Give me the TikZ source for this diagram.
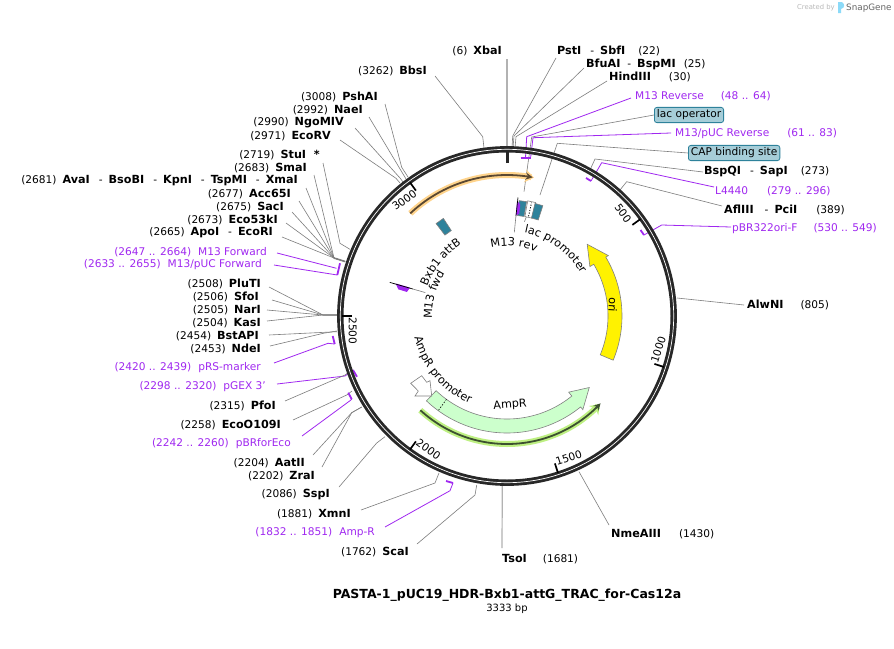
\documentclass[tikz,border=0pt]{standalone}
\usepackage{fontspec}
\setmainfont{DejaVu Sans}
\usepackage{xcolor}
\usetikzlibrary{arrows.meta,decorations.text}
\definecolor{leadgray}{RGB}{125,125,125}
\definecolor{primer}{RGB}{160,40,240}
\definecolor{ringdark}{RGB}{40,40,40}
\definecolor{opteal}{RGB}{46,130,155}
\definecolor{opfill}{RGB}{166,205,216}
\definecolor{ampfill}{RGB}{204,255,204}
\definecolor{orangeglow}{RGB}{255,212,140}
\definecolor{orangeline}{RGB}{90,72,50}
\definecolor{greenglow}{RGB}{190,240,130}
\definecolor{greenline}{RGB}{60,80,48}
\newcommand{\lblfont}{\fontsize{10.6}{12}\selectfont}
\newcommand{\curvefont}{\fontsize{11.2}{13}\selectfont}
\newcommand{\enz}[1]{{\fontsize{11.2}{12}\selectfont\bfseries #1}}
\newcommand{\gap}{\hspace{6pt}}
\tikzset{
  site/.style={font=\lblfont, inner sep=1pt},
  oligo/.style={font=\lblfont, text=primer, inner sep=1pt},
  opbox/.style={font=\lblfont, draw=opteal, fill=opfill, rounded corners=2.5pt, line width=0.8pt, inner sep=2.5pt, minimum height=14pt},
  lead/.style={draw=leadgray, line width=0.6pt},
  leadpale/.style={draw=gray!60, line width=1.2pt},
  leadp/.style={draw=primer, line width=0.8pt},
  tickp/.style={draw=primer, line width=1.8pt},
  tickmark/.style={draw=black, line width=1.7pt},
  ticklbl/.style={font=\lblfont, inner sep=0pt},
  feat/.style={draw=gray, line width=0.6pt},
}
\begin{document}
\begin{tikzpicture}[x=1pt, y=-1pt]
  \useasboundingbox (0,0) rectangle (894,648);
  \fill[white] (0,0) rectangle (894,648);

  % top of the page
  \node[font=\fontsize{6.8}{8}\selectfont, text=gray!55, inner sep=0pt, anchor=west] (credit) at (797,8) {Created by};
  \fill[cyan!45] (838,2) -- (842,2) .. controls (845,4) and (845,8) .. (841,9) -- (841,13) -- (838,13) -- cycle;
  \node[font=\fontsize{8.8}{10}\selectfont, text=gray!80!black, inner sep=0pt, anchor=west] (brand) at (846,8) {SnapGene};

  % enzyme sites, left side
  \node[site, anchor=east] (xbai) at (503,51) {(6)\gap\enz{XbaI}};
  \coordinate (xbaiR) at (507,148);
  \draw[leadpale] ([shift={(4pt,-8pt)}]xbai.east) -- (xbaiR);
  \node[site, anchor=east] (bbsi) at (428,71) {(3262)\gap\enz{BbsI}};
  \coordinate (bbsiE) at (482.7,136.7); \coordinate (bbsiR) at (484,148);
  \draw[lead] ([shift={(7pt,-5pt)}]bbsi.east) -- (bbsiE) -- (bbsiR);
  \node[site, anchor=east] (pshai) at (379,97) {(3008)\gap\enz{PshAI}};
  \coordinate (pshaiE) at (401.7,167.3); \coordinate (pshaiR) at (408,177);
  \draw[lead] ([shift={(6pt,-7pt)}]pshai.east) -- (pshaiE) -- (pshaiR);
  \node[site, anchor=east] (naei) at (364,110) {(2992)\gap\enz{NaeI}};
  \coordinate (naeiR) at (406,179);
  \draw[lead] ([shift={(5pt,-7pt)}]naei.east) -- (naeiR);
  \node[site, anchor=east] (ngomiv) at (345,123) {(2990)\gap\enz{NgoMIV}};
  \coordinate (ngomivE) at (400,178); \coordinate (ngomivR) at (403,182);
  \draw[lead] ([shift={(10pt,-5pt)}]ngomiv.east) -- (ngomivE) -- (ngomivR);
  \node[site, anchor=east] (ecorv) at (332,136) {(2971)\gap\enz{EcoRV}};
  \coordinate (ecorvE) at (396,178.3); \coordinate (ecorvR) at (400,183);
  \draw[lead] ([shift={(8pt,-4pt)}]ecorv.east) -- (ecorvE) -- (ecorvR);
  \node[site, anchor=east] (stui) at (321,155) {(2719)\gap\enz{StuI\ \ *}};
  \coordinate (stuiE) at (340,243.3); \coordinate (stuiR) at (350,249.3);
  \draw[lead] ([shift={(2pt,-8pt)}]stui.east) -- (stuiE) -- (stuiR);

  \coordinate (hubE) at (334,258); \coordinate (hubR) at (345,261.5);
  \draw[leadpale, line width=1.8pt] (hubE) -- (hubR);
  \node[site, anchor=east] (smai) at (308,168) {(2683)\gap\enz{SmaI}};
  \draw[lead] ([shift={(6pt,-7pt)}]smai.east) -- (hubE) -- (hubR);
  \node[site, anchor=east] (xmai) at (299,181) {(2681)\gap\enz{AvaI}\hspace{9pt}-\gap\enz{BsoBI}\hspace{9pt}-\gap\enz{KpnI}\hspace{9pt}-\gap\enz{TspMI}\hspace{9pt}-\gap\enz{XmaI}};
  \draw[lead] ([shift={(7pt,-7pt)}]xmai.east) -- (hubE) -- (hubR);
  \node[site, anchor=east] (acc) at (292,194) {(2677)\gap\enz{Acc65I}};
  \draw[lead] ([shift={(7pt,-7pt)}]acc.east) -- (hubE) -- (hubR);
  \node[site, anchor=east] (saci) at (285,207) {(2675)\gap\enz{SacI}};
  \draw[lead] ([shift={(7pt,-5pt)}]saci.east) -- (hubE) -- (hubR);
  \node[site, anchor=east] (ecofiftythree) at (279,220) {(2673)\gap\enz{Eco53kI}};
  \draw[lead] ([shift={(7pt,-3pt)}]ecofiftythree.east) -- (hubE) -- (hubR);
  \node[site, anchor=east] (ecori) at (274,233) {(2665)\gap\enz{ApoI}\hspace{9pt}-\gap\enz{EcoRI}};
  \draw[lead] ([shift={(8pt,-4pt)}]ecori.east) -- (hubE) -- (hubR);

  \node[oligo, anchor=east] (mfwd) at (268,252) {(2647 .. 2664)\hspace{7pt}M13 Forward};
  \coordinate (mfwdE) at (336.5,268.3);
  \draw[leadp] ([shift={(9pt,-1pt)}]mfwd.east) -- (mfwdE);
  \node[oligo, anchor=east] (mpucfwd) at (263,265) {(2633 .. 2655)\hspace{7pt}M13/pUC Forward};
  \coordinate (mpucfwdE) at (337.3,275);
  \draw[leadp] ([shift={(11pt,0pt)}]mpucfwd.east) -- (mpucfwdE);
  \coordinate (mfwdA) at (340,263.3);
  \draw[tickp] (mpucfwdE) -- (mfwdA);

  \coordinate (kasE) at (323,315); \coordinate (kasR) at (337,315);
  \node[site, anchor=east] (pluti) at (262,284) {(2508)\gap\enz{PluTI}};
  \draw[lead] ([shift={(7pt,-3pt)}]pluti.east) -- (kasE) -- (kasR);
  \node[site, anchor=east] (sfoi) at (260,297) {(2506)\gap\enz{SfoI}};
  \draw[lead] ([shift={(12pt,-3pt)}]sfoi.east) -- (kasE) -- (kasR);
  \node[site, anchor=east] (nari) at (262,310) {(2505)\gap\enz{NarI}};
  \draw[lead] ([shift={(5pt,0pt)}]nari.east) -- (kasE) -- (kasR);
  \node[site, anchor=east] (kasi) at (262,323) {(2504)\gap\enz{KasI}};
  \draw[lead] ([shift={(5pt,2pt)}]kasi.east) -- (kasE) -- (kasR);
  \node[site, anchor=east] (bstapi) at (260,336) {(2454)\gap\enz{BstAPI}};
  \coordinate (bstapiR) at (337,331.7);
  \draw[lead] ([shift={(9pt,1pt)}]bstapi.east) -- (bstapiR);
  \node[site, anchor=east] (ndei) at (262,349) {(2453)\gap\enz{NdeI}};
  \coordinate (ndeiE) at (323.3,333.3); \coordinate (ndeiR) at (337,331);
  \draw[lead] ([shift={(8pt,3pt)}]ndei.east) -- (ndeiE) -- (ndeiR);

  \node[oligo, anchor=east] (prs) at (262,368) {(2420 .. 2439)\hspace{7pt}pRS-marker};
  \coordinate (prsE) at (328,343.3); \coordinate (prsA) at (332.7,336); \coordinate (prsB) at (334.7,344);
  \draw[leadp] ([shift={(12pt,5pt)}]prs.east) -- (prsE) -- (prsB);
  \draw[tickp] (prsA) -- (prsB);
  \node[oligo, anchor=east] (pgex) at (267,387) {(2298 .. 2320)\hspace{7pt}pGEX 3'};
  \coordinate (pgexE) at (345,376); \coordinate (pgexA) at (353,370); \coordinate (pgexB) at (357,376.7);
  \draw[leadp] ([shift={(10pt,3pt)}]pgex.east) -- (pgexE) -- (pgexA);
  \draw[tickp] (pgexA) -- (pgexB);
  \node[site, anchor=east] (pfoi) at (277,406) {(2315)\gap\enz{PfoI}};
  \coordinate (pfoiE) at (345,375); \coordinate (pfoiR) at (349,372);
  \draw[lead] ([shift={(8pt,5pt)}]pfoi.east) -- (pfoiE) -- (pfoiR);
  \node[site, anchor=east] (ecoo) at (282,425) {(2258)\gap\enz{EcoO109I}};
  \coordinate (ecooE) at (346.7,395); \coordinate (ecooR) at (352,391);
  \draw[lead] ([shift={(11pt,5pt)}]ecoo.east) -- (ecooE) -- (ecooR);
  \node[oligo, anchor=east] (pbrfor) at (292,444) {(2242 .. 2260)\hspace{7pt}pBRforEco};
  \coordinate (pbrforE) at (350,400.7); \coordinate (pbrforA) at (348.3,392.7); \coordinate (pbrforB) at (351.7,399.3);
  \draw[leadp] ([shift={(10pt,8pt)}]pbrfor.east) -- (pbrforE) -- (pbrforB);
  \draw[tickp] (pbrforA) -- (pbrforB);

  \coordinate (aatE) at (351.7,412.7); \coordinate (aatR) at (361.7,407);
  \node[site, anchor=east] (aatii) at (306,463) {(2204)\gap\enz{AatII}};
  \draw[lead] ([shift={(7pt,8pt)}]aatii.east) -- (aatE) -- (aatR);
  \node[site, anchor=east] (zrai) at (316,476) {(2202)\gap\enz{ZraI}};
  \draw[lead] ([shift={(6pt,9pt)}]zrai.east) -- (aatE) -- (aatR);
  \node[site, anchor=east] (sspi) at (331,495) {(2086)\gap\enz{SspI}};
  \coordinate (sspiE) at (376.7,443); \coordinate (sspiR) at (385,436.7);
  \draw[lead] ([shift={(8pt,8pt)}]sspi.east) -- (sspiE) -- (sspiR);
  \node[site, anchor=east] (xmni) at (352,514) {(1881)\gap\enz{XmnI}};
  \coordinate (xmniE) at (435,483); \coordinate (xmniR) at (439,473);
  \draw[lead] ([shift={(9pt,4pt)}]xmni.east) -- (xmniE) -- (xmniR);
  \node[oligo, anchor=east] (ampr) at (376,533) {(1832 .. 1851)\hspace{7pt}Amp-R};
  \coordinate (amprE) at (450,490.7); \coordinate (amprA) at (446,481); \coordinate (amprB) at (453,483);
  \draw[leadp] ([shift={(9pt,6pt)}]ampr.east) -- (amprE) -- (amprB);
  \draw[tickp] (amprA) -- (amprB);
  \node[site, anchor=east] (scai) at (410,552) {(1762)\gap\enz{ScaI}};
  \coordinate (scaiE) at (475,495); \coordinate (scaiR) at (476.7,485);
  \draw[lead] ([shift={(7pt,8pt)}]scai.east) -- (scaiE) -- (scaiR);

  % enzyme sites, right side
  \node[site, anchor=west] (tsoi) at (501,559) {\enz{TsoI}\hspace{16pt}(1681)};
  \coordinate (tsoiR) at (502.3,485);
  \draw[leadpale] ([shift={(1pt,11pt)}]tsoi.west) -- (tsoiR);
  \node[site, anchor=west] (nme) at (610,534) {\enz{NmeAIII}\hspace{18pt}(1430)};
  \coordinate (nmeR) at (579,471.7);
  \draw[lead] ([shift={(-1pt,9pt)}]nme.west) -- (nmeR);
  \node[site, anchor=west] (alwni) at (746,305) {\enz{AlwNI}\hspace{17pt}(805)};
  \coordinate (alwniR) at (677,298);
  \draw[lead] ([shift={(-2pt,0pt)}]alwni.west) -- (alwniR);
  \node[oligo, anchor=west] (pbrori) at (731,229) {pBR322ori-F\hspace{16pt}(530 .. 549)};
  \coordinate (pbroriE) at (661.7,225); \coordinate (pbroriA) at (640.5,230); \coordinate (pbroriB) at (644,235);
  \draw[leadp] ([shift={(0pt,2pt)}]pbrori.west) -- (pbroriE) -- (pbroriB);
  \draw[tickp] (pbroriA) -- (pbroriB);
  \node[site, anchor=west] (afl) at (723,210) {\enz{AflIII}\hspace{11pt}-\gap\enz{PciI}\hspace{19pt}(389)};
  \coordinate (aflE) at (626.7,181.7); \coordinate (aflR) at (620,190);
  \draw[lead] ([shift={(-1pt,4pt)}]afl.west) -- (aflE) -- (aflR);
  \node[oligo, anchor=west] (lfour) at (714,191) {L4440\hspace{19pt}(279 .. 296)};
  \coordinate (lfourE) at (601.7,162.7); \coordinate (lfourA) at (586,178); \coordinate (lfourB) at (591,181);
  \draw[leadp] ([shift={(0pt,4pt)}]lfour.west) -- (lfourE) -- (lfourB);
  \draw[tickp] (lfourA) -- (lfourB);
  \node[site, anchor=west] (bspqi) at (703,172) {\enz{BspQI}\hspace{9pt}-\gap\enz{SapI}\hspace{13pt}(273)};
  \coordinate (bspqiE) at (595,159); \coordinate (bspqiR) at (590,170);
  \draw[lead] (bspqi.west) -- (bspqiE) -- (bspqiR);
  \node[opbox, anchor=west] (cap) at (688,153) {CAP binding site};
  \coordinate (capE) at (557.3,143.3); \coordinate (capR) at (540,195);
  \draw[lead] (cap.west) -- (capE) -- (capR);
  \node[oligo, anchor=west] (mpucrev) at (674,134) {M13/pUC Reverse\hspace{18pt}(61 .. 83)};
  \coordinate (mpucrevE) at (533,137.7); \coordinate (mpucrevR) at (530.7,157);
  \draw[leadp] ([shift={(-3pt,1pt)}]mpucrev.west) -- (mpucrevE) -- (mpucrevR);
  \node[opbox, anchor=west] (lacop) at (654,115) {lac operator};
  \coordinate (lacopE) at (531.7,137); \coordinate (lacopR) at (524,191.7);
  \draw[lead] (lacop.west) -- (lacopE) -- (lacopR);
  \node[oligo, anchor=west] (mrev) at (634,96) {M13 Reverse\hspace{17pt}(48 .. 64)};
  \coordinate (mrevE) at (526.7,136.7); \coordinate (mrevR) at (525.5,157.7);
  \draw[leadp] ([shift={(-3pt,-2pt)}]mrev.west) -- (mrevE) -- (mrevR);
  \coordinate (mrevA) at (520.7,157.7); \coordinate (mrevB) at (530.7,157.7);
  \draw[tickp] (mrevA) -- (mrevB);
  \node[site, anchor=west] (hind) at (608,77) {\enz{HindIII}\hspace{18pt}(30)};
  \coordinate (hindE) at (516,136.7); \coordinate (hindR) at (515,148);
  \draw[lead] ([shift={(-1pt,-4pt)}]hind.west) -- (hindE) -- (hindR);
  \node[site, anchor=west] (bfuai) at (585,64) {\enz{BfuAI}\hspace{7pt}-\gap\enz{BspMI}\hspace{8pt}(25)};
  \coordinate (bfuaiE) at (514,136); \coordinate (bfuaiR) at (513,148);
  \draw[lead] ([shift={(-1pt,-4pt)}]bfuai.west) -- (bfuaiE) -- (bfuaiR);
  \node[site, anchor=west] (psti) at (556,51) {\enz{PstI}\hspace{9pt}-\gap\enz{SbfI}\hspace{13pt}(22)};
  \coordinate (pstiE) at (512.7,136); \coordinate (pstiR) at (512,148);
  \draw[lead] ([shift={(0pt,-7pt)}]psti.west) -- (pstiE) -- (pstiR);

  \node[font=\fontsize{12.5}{14}\selectfont\bfseries, inner sep=0pt] (title) at (507,595) {PASTA-1\_pUC19\_HDR-Bxb1-attG\_TRAC\_for-Cas12a};
  \node[font=\fontsize{10}{12}\selectfont, inner sep=0pt] (size) at (507,609) {3333 bp};

  \begin{scope}[shift={(507,316)}]
    % backbone
    \draw[ringdark, line width=6.4pt] plot[domain=0:360, samples=181] (\x:166.7) -- cycle;
    \draw[white, line width=0.7pt] plot[domain=0:360, samples=181] (\x:166.7) -- cycle;
    \draw[black!85, line width=3pt] (-90:153) -- (-90:165);
    \draw[tickmark] (-36:155) -- (-36:165);
    \draw[tickmark] (18:155) -- (18:165);
    \draw[tickmark] (72:155) -- (72:165);
    \draw[tickmark] (126:155) -- (126:165);
    \draw[tickmark] (180:155) -- (180:165);
    \draw[tickmark] (234:155) -- (234:165);
    \node[ticklbl, rotate=-54] (tfive) at (-41.5:155) {500};
    \node[ticklbl, rotate=72] (tten) at (12.5:155) {1000};
    \node[ticklbl, rotate=18] (tfifteen) at (66.5:155) {1500};
    \node[ticklbl, rotate=-36] (ttwenty) at (120.5:155) {2000};
    \node[ticklbl, rotate=-90] (ttwentyfive) at (174.5:155) {2500};
    \node[ticklbl, rotate=36] (tthirty) at (228.5:155) {3000};

    % primer-like outer arcs
    \draw[orangeglow, line width=6pt, -{Stealth[length=9pt,width=13pt]}] plot[domain=-133.3:-79, samples=50] (\x:141);
    \draw[orangeline, line width=1.8pt, -{Stealth[length=7pt,width=7pt]}] plot[domain=-133.3:-79.5, samples=50] (\x:141);
    \draw[greenglow, line width=6pt, -{Stealth[length=9pt,width=13pt]}] plot[domain=132.6:43.5, samples=70] (\x:128);
    \draw[greenline, line width=1.8pt, -{Stealth[length=7pt,width=7pt]}] plot[domain=132.6:43, samples=70] (\x:128);

    % ori
    \draw[feat, fill=yellow] plot[domain=22.6:-30.8, samples=40] (\x:101) -- (-30.8:96.5) -- (-41.8:107.6) -- (-30.8:118) -- plot[domain=-30.8:22.6, samples=40] (\x:115) -- cycle;
    \node[font=\curvefont, rotate=-93, inner sep=0pt] (orilbl) at (-6:106.5) {ori};

    % AmpR
    \draw[feat, fill=ampfill] plot[domain=133.5:51, samples=60] (\x:103) -- (51:98) -- (41:109) -- (51:120.5) -- plot[domain=51:133.5, samples=60] (\x:117) -- cycle;
    \draw[black, line width=0.6pt, dashed, dash pattern=on 1.5pt off 1.5pt] (126:103) -- (126:117);
    \node[font=\curvefont, rotate=4, inner sep=0pt] (amplbl) at (88:89) {AmpR};
    \draw[feat, fill=white] (-96.3,67.3) -- (-85.3,59.7) -- (-80.3,66.3) -- (-77,64.7) -- (-75.3,80) -- (-92,80) -- (-88.7,75) -- cycle;

    % small blocks
    \draw[feat, fill=opteal] (-127.5:102) -- (-123.1:102) -- (-123.1:116.5) -- (-127.5:116.5) -- cycle;
    \draw[feat, fill=opteal] (-84:101) -- (-80.3:101) -- (-80.3:116) -- (-84:116) -- cycle;
    \draw[feat, fill=white] (-79.8:101) -- (-75.8:101) -- (-75.8:117) -- (-79.8:117) -- cycle;
    \draw[black, line width=0.8pt, dash pattern=on 1.2pt off 1.5pt] (-77.8:102) -- (-77.8:116);
    \draw[feat, fill=opteal] (-76:101) -- (-72:101) -- (-72:116) -- (-76:116) -- cycle;
    \draw[leadgray, line width=0.6pt] (-79:100.8) -- (-79.5:95.8);

    \fill[primer] (-85:116) -- (-85:101) -- (-83.2:103) -- (-83.2:112) -- cycle;
    \draw[black, line width=0.7pt] (-84.7:119) -- (-84.9:100);
    \draw[leadgray, line width=0.6pt] (-84.9:100) -- (-85:84);
    \fill[primer] (-163.7:116) -- (-163.7:101) -- (-166.5:103) -- (-166.2:112) -- cycle;
    \draw[black, line width=0.7pt] (-164:122) -- (-164:98);
    \draw[leadgray, line width=0.6pt] (-164:98) -- (-164:85);

    % curved names
    \path[decorate, decoration={text along path, text align=center, text={|\curvefont|Bxb1 attB}}] plot[domain=-175:-107, samples=60] (\x:85);
    \path[decorate, decoration={text along path, text align=center, text={|\curvefont|M13 fwd}}] plot[domain=-205:-123, samples=60] (\x:75);
    \path[decorate, decoration={text along path, text align=center, text={|\curvefont|M13 rev}}] plot[domain=-125:-44, samples=60] (\x:70);
    \path[decorate, decoration={text along path, text align=center, text={|\curvefont|lac promoter}}] plot[domain=-95:-13, samples=60] (\x:85);
    \path[decorate, decoration={text along path, text align=center, text={|\curvefont|AmpR promoter}}] plot[domain=185:95, samples=60] (\x:95);
  \end{scope}
\end{tikzpicture}
\end{document}
